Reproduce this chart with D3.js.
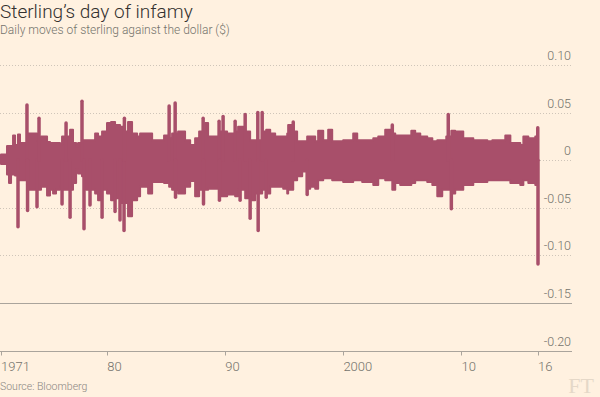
<!DOCTYPE html>
<html>
<head>
<meta charset="utf-8">
<script src="https://cdn.jsdelivr.net/npm/d3@7"></script>
<style>
    body { margin: 0; background: #fff1e0; }
    svg { display: block; }
    .title { font-family: 'Roboto', sans-serif; font-weight: 300; font-size: 19px; fill: #33302e; }
    .subtitle { font-family: 'Roboto', sans-serif; font-weight: 300; font-size: 12px; fill: #74736c; }
    .tick-label { font-family: 'Roboto', sans-serif; font-weight: 300; font-size: 12.5px; fill: #74736c; }
    .source { font-family: 'Roboto', sans-serif; font-weight: 300; font-size: 10.5px; fill: #8a8680; }
</style>
</head>
<body>
<svg id="chart" width="600" height="397"></svg>
<script>
//----------DATA----------

var bodyYears = [1971.00, 1971.51, 1971.68, 1971.85, 1972.02, 1972.19, 1972.44, 1972.61, 1973.20, 1974.05,
    1974.39, 1974.90, 1975.15, 1975.41, 1975.66, 1976.00, 1976.17, 1976.85, 1977.10, 1977.36,
    1977.53, 1977.86, 1978.20, 1978.97, 1979.22, 1979.56, 1979.98, 1980.32, 1980.66, 1981.08,
    1981.42, 1981.76, 1982.10, 1982.53, 1982.78, 1983.46, 1983.80, 1984.81, 1985.24, 1985.49,
    1986.00, 1986.59, 1987.02, 1987.44, 1987.78, 1988.29, 1988.54, 1989.47, 1990.15, 1990.83,
    1991.08, 1991.68, 1992.10, 1992.53, 1993.12, 1993.46, 1993.80, 1994.22, 1994.90, 1995.24,
    1995.32, 1995.75, 1996.08, 1996.51, 1996.93, 1997.19, 1997.61, 1997.86, 1998.29, 1998.71,
    1999.05, 1999.98, 2000.83, 2001.17, 2001.59, 2002.53, 2002.95, 2003.54, 2004.14, 2004.39,
    2004.81, 2005.75, 2006.08, 2006.51, 2007.10, 2007.53, 2007.95, 2008.37, 2008.71, 2009.14,
    2009.47, 2010.15, 2011.00, 2012.19, 2012.61, 2013.71, 2014.14, 2014.98, 2015.24, 2015.66,
    2016.25, 2016.48];
var bodyHigh = [0.006, 0.015, 0.015, 0.015, 0.026, 0.016, 0.027, 0.018, 0.028, 0.021,
    0.025, 0.019, 0.018, 0.018, 0.018, 0.016, 0.025, 0.032, 0.018, 0.014,
    0.018, 0.021, 0.021, 0.028, 0.025, 0.030, 0.039, 0.040, 0.037, 0.035,
    0.030, 0.040, 0.028, 0.025, 0.028, 0.028, 0.021, 0.026, 0.023, 0.028,
    0.030, 0.021, 0.016, 0.023, 0.030, 0.039, 0.025, 0.030, 0.028, 0.030,
    0.035, 0.030, 0.021, 0.021, 0.030, 0.032, 0.028, 0.025, 0.025, 0.028,
    0.037, 0.030, 0.020, 0.020, 0.025, 0.025, 0.020, 0.031, 0.021, 0.032,
    0.020, 0.021, 0.028, 0.021, 0.021, 0.023, 0.025, 0.032, 0.028, 0.026,
    0.026, 0.031, 0.028, 0.025, 0.023, 0.020, 0.021, 0.021, 0.025, 0.031,
    0.030, 0.023, 0.021, 0.020, 0.021, 0.026, 0.018, 0.016, 0.025, 0.023,
    0.025, 0.025];
var bodyLow = [-0.004, -0.015, -0.024, -0.015, -0.015, -0.016, -0.021, -0.021, -0.031, -0.031,
    -0.028, -0.037, -0.031, -0.035, -0.031, -0.028, -0.031, -0.031, -0.024, -0.010,
    -0.014, -0.017, -0.031, -0.035, -0.042, -0.031, -0.035, -0.042, -0.040, -0.045,
    -0.045, -0.059, -0.042, -0.038, -0.028, -0.035, -0.023, -0.024, -0.028, -0.031,
    -0.035, -0.028, -0.022, -0.038, -0.031, -0.031, -0.030, -0.038, -0.036, -0.038,
    -0.031, -0.040, -0.042, -0.035, -0.031, -0.035, -0.028, -0.028, -0.030, -0.035,
    -0.031, -0.021, -0.017, -0.012, -0.030, -0.028, -0.030, -0.021, -0.019, -0.019,
    -0.021, -0.023, -0.021, -0.021, -0.023, -0.026, -0.019, -0.021, -0.031, -0.024,
    -0.026, -0.024, -0.021, -0.021, -0.023, -0.026, -0.038, -0.031, -0.031, -0.035,
    -0.031, -0.026, -0.023, -0.021, -0.021, -0.021, -0.024, -0.026, -0.021, -0.024,
    -0.026, -0.026];

//single-day spikes that stick out of the body
var spikeYears = [1972.44, 1973.20, 1973.25, 1974.05, 1974.22, 1976.17, 1976.51, 1976.85, 1977.86, 1978.03,
    1978.54, 1979.56, 1980.66, 1981.08, 1981.42, 1981.45, 1985.24, 1985.75, 1985.78, 1988.12,
    1988.15, 1989.47, 1989.50, 1989.81, 1990.83, 1991.25, 1991.68, 1992.10, 1992.75, 1992.78,
    1993.12, 1993.46, 1995.75, 1996.93, 2004.14, 2008.88, 2009.14, 2016.46, 2016.48];
var spikeValues = [-0.070, 0.058, -0.053, -0.049, 0.044, -0.046, 0.039, -0.060, 0.062, -0.072,
    -0.047, -0.060, -0.054, -0.063, -0.074, 0.044, 0.057, 0.060, -0.039, 0.044,
    -0.046, 0.041, -0.042, 0.046, 0.041, -0.042, 0.048, -0.061, 0.050, -0.074,
    0.050, -0.039, 0.040, -0.036, 0.037, 0.048, -0.051, 0.034, -0.109];

var yTicks = [0.10, 0.05, 0, -0.05, -0.10, -0.15, -0.20];
var yTickLabels = ['0.10', '0.05', '0', '-0.05', '-0.10', '-0.15', '-0.20'];
var xTickYears = [1971, 1980, 1990, 2000, 2010, 2016.48];
var xTickLabels = ['1971', '80', '90', '2000', '10', '16'];

//----------SETUP----------

var lineColour = '#a84f6a';
var svg = d3.select('#chart');

svg.append('rect').attr('width', 600).attr('height', 397).attr('fill', '#fff1e0');

var x = d3.scaleLinear().domain([1971, 2016.48]).range([1, 538]);
var y = d3.scaleLinear().domain([-0.20, 0.10]).range([350.5, 65]);

svg.append('text').attr('class', 'title').attr('x', 0).attr('y', 18).text('Sterling\u2019s day of infamy');
svg.append('text').attr('class', 'subtitle').attr('x', 0).attr('y', 34).text('Daily moves of sterling against the dollar ($)');

//----------GRID AND Y LABELS----------

var grid = svg.append('g');
grid.selectAll('line')
    .data(yTicks)
    .enter()
    .append('line')
    .attr('x1', 0)
    .attr('x2', 572)
    .attr('y1', function(d) {return Math.round(y(d)) + 0.5;})
    .attr('y2', function(d) {return Math.round(y(d)) + 0.5;})
    .attr('stroke', function(d) {return d <= -0.15 ? '#aaa49c' : '#cfc5b9';})
    .attr('stroke-dasharray', function(d) {return d <= -0.15 ? null : '1,2';});

grid.selectAll('text')
    .data(yTicks)
    .enter()
    .append('text')
    .attr('class', 'tick-label')
    .attr('x', 571)
    .attr('y', function(d) {return y(d) - 5;})
    .attr('text-anchor', 'end')
    .text(function(d, i) {return yTickLabels[i];});

//----------X AXIS----------

var xAxis = svg.append('g').attr('transform', 'translate(0,' + (Math.round(y(-0.20)) + 0.5) + ')');
xAxis.selectAll('line')
    .data(xTickYears)
    .enter()
    .append('line')
    .attr('x1', function(d) {return Math.round(x(d)) + 0.5;})
    .attr('x2', function(d) {return Math.round(x(d)) + 0.5;})
    .attr('y1', 0)
    .attr('y2', 4)
    .attr('stroke', '#aaa49c');
xAxis.selectAll('text')
    .data(xTickYears)
    .enter()
    .append('text')
    .attr('class', 'tick-label')
    .attr('x', function(d) {return x(d);})
    .attr('y', 19.5)
    .style('font-size', '13px')
    .text(function(d, i) {return xTickLabels[i];});

//----------SERIES----------

var body = bodyYears.map(function(d, i) {return {year: d, hi: bodyHigh[i], lo: bodyLow[i]};});
var spikes = spikeYears.map(function(d, i) {return {year: d, value: spikeValues[i]};});

var area = d3.area()
    .x(function(d) {return x(d.year);})
    .y0(function(d) {return y(d.lo);})
    .y1(function(d) {return y(d.hi);})
    .curve(d3.curveStepAfter);

svg.append('path')
    .datum(body)
    .attr('d', area)
    .attr('fill', lineColour)
    .attr('stroke', lineColour)
    .attr('stroke-width', 2)
    .attr('stroke-linejoin', 'round');

svg.append('g')
    .selectAll('line')
    .data(spikes)
    .enter()
    .append('line')
    .attr('x1', function(d) {return x(d.year);})
    .attr('x2', function(d) {return x(d.year);})
    .attr('y1', y(0))
    .attr('y2', function(d) {return y(d.value);})
    .attr('stroke', lineColour)
    .attr('stroke-width', 3.5)
    .attr('stroke-linecap', 'round');

//----------FOOTER----------

svg.append('text').attr('class', 'source').attr('x', 0).attr('y', 390).text('Source: Bloomberg');
svg.append('text')
    .attr('x', 594)
    .attr('y', 393)
    .attr('text-anchor', 'end')
    .style('font-family', "'Liberation Serif', serif")
    .style('font-size', '22px')
    .style('fill', '#e5d8c8')
    .text('FT');
</script>
</body>
</html>
